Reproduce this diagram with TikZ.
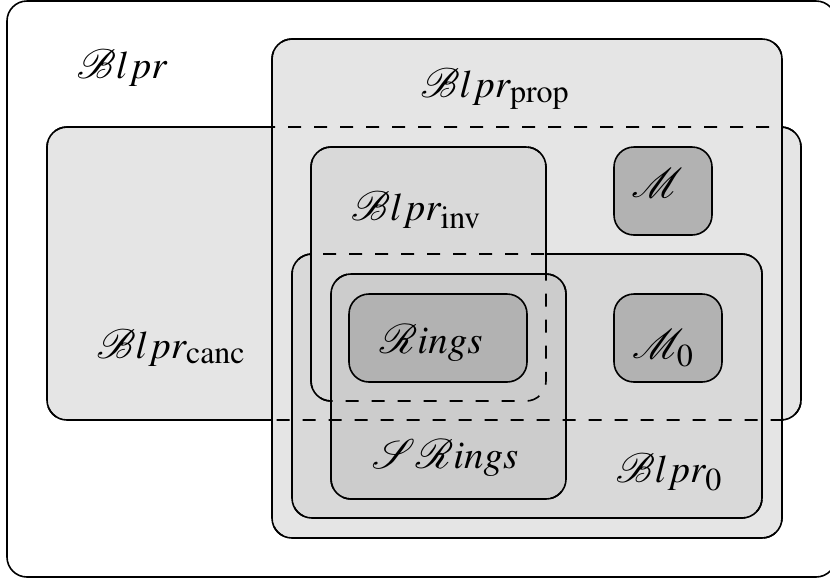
\documentclass[tikz,border=0pt]{standalone}
\usepackage{mathptmx}
\usepackage{mathrsfs}
\usepackage{tikz}
\DeclareMathSizes{19.5}{19.5}{16}{12}

\begin{document}
\begin{tikzpicture}[x=0.5pt,y=-0.5pt,line width=0.8pt,
    set/.style={draw,rounded corners=10pt},
    over/.style={draw,dash pattern=on 6.5pt off 6.5pt,rounded corners=10pt}]

        \useasboundingbox (0,0) rectangle (830,580);
        \clip (0,0) rectangle (830,580);

        \draw[set, fill=white] (7,1) rectangle (836,577);

        \foreach \a/\b/\c/\d/\f in {47/127/801/420/10, 272/39/782/538/10,
            292/254/762/518/15, 311/147/546/401/15, 331/274/566/499/20,
            349/294/527/382/30, 614/147/712/235/30, 614/294/722/382/30}
          \draw[set, fill=black!\f] (\a,\b) rectangle (\c,\d);

        \foreach \a/\b/\c/\d in {47/127/801/420, 272/39/782/538,
            292/254/762/518, 311/147/546/401, 331/274/566/499}
          \draw[over] (\a,\b) rectangle (\c,\d);

        \begin{scope}[every node/.style={anchor=base, font=\fontsize{19.5}{23}\selectfont}]
          \node (blpr)   at (122,78)  {$\mathscr{B}lpr$};
          \node (prop)   at (495,97)  {$\mathscr{B}lpr_{\mathrm{prop}}$};
          \node (inv)    at (416,220) {$\mathscr{B}lpr_{\mathrm{inv}}$};
          \node (canc)   at (171,358) {$\mathscr{B}lpr_{\mathrm{canc}}$};
          \node (rings)  at (431,353) {$\mathscr{R}ings$};
          \node (srings) at (445,468) {$\mathscr{S}\mathscr{R}ings$};
          \node (zero)   at (669,482) {$\mathscr{B}lpr_0$};
          \node (m)      at (657,197) {$\mathscr{M}$};
          \node (mzero)  at (663,358) {$\mathscr{M}_0$};
        \end{scope}

      \end{tikzpicture}
\end{document}
